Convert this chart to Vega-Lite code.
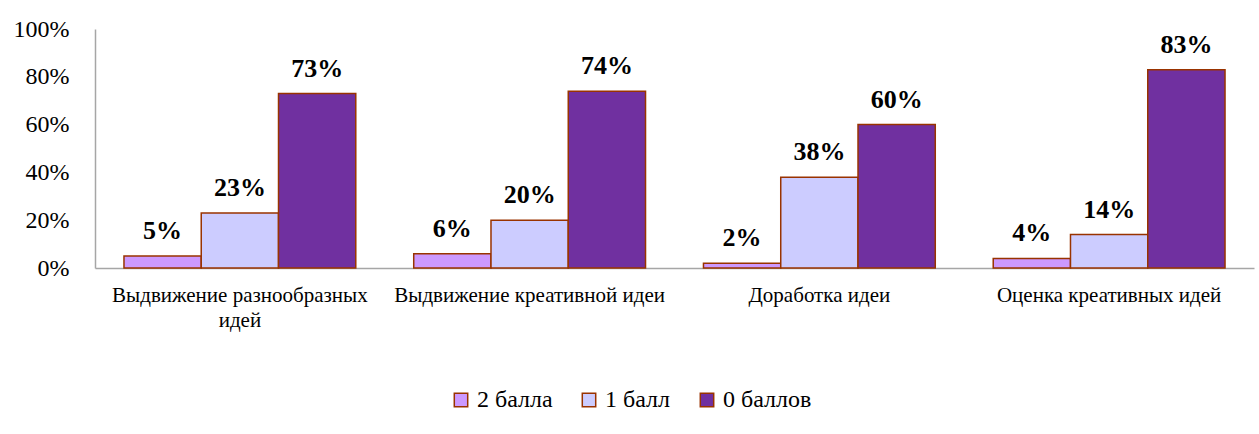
{
  "$schema": "https://vega.github.io/schema/vega-lite/v6.json",
  "width": 1159,
  "height": 239,
  "autosize": {"type": "none"},
  "padding": {"left": 95, "top": 29, "right": 5, "bottom": 166},
  "background": "white",
  "config": {
    "font": "Liberation Serif, DejaVu Serif, serif",
    "axis": {"labelFont": "Liberation Serif, DejaVu Serif, serif"},
    "legend": {"labelFont": "Liberation Serif, DejaVu Serif, serif"},
    "view": {"stroke": null}
  },
  "data": {
    "values": [
      {"category": "Выдвижение разнообразных идей", "series": "2 балла", "value": 0.05},
      {"category": "Выдвижение разнообразных идей", "series": "1 балл", "value": 0.23},
      {"category": "Выдвижение разнообразных идей", "series": "0 баллов", "value": 0.73},
      {"category": "Выдвижение креативной идеи", "series": "2 балла", "value": 0.06},
      {"category": "Выдвижение креативной идеи", "series": "1 балл", "value": 0.20},
      {"category": "Выдвижение креативной идеи", "series": "0 баллов", "value": 0.74},
      {"category": "Доработка идеи", "series": "2 балла", "value": 0.02},
      {"category": "Доработка идеи", "series": "1 балл", "value": 0.38},
      {"category": "Доработка идеи", "series": "0 баллов", "value": 0.60},
      {"category": "Оценка креативных идей", "series": "2 балла", "value": 0.04},
      {"category": "Оценка креативных идей", "series": "1 балл", "value": 0.14},
      {"category": "Оценка креативных идей", "series": "0 баллов", "value": 0.83}
    ]
  },
  "encoding": {
    "x": {
      "field": "category",
      "type": "nominal",
      "sort": null,
      "scale": {"paddingInner": 0.2, "paddingOuter": 0.1},
      "axis": {
        "title": null,
        "labelAngle": 0,
        "labelFontSize": 21,
        "labelColor": "black",
        "labelPadding": 16,
        "labelLimit": 400,
        "labelLineHeight": 25,
        "ticks": false,
        "domainColor": "#a6a6a6",
        "domainWidth": 1.5,
        "labelExpr": "datum.value == 'Выдвижение разнообразных идей' ? ['Выдвижение разнообразных', 'идей'] : datum.value"
      }
    },
    "xOffset": {
      "field": "series",
      "type": "nominal",
      "sort": ["2 балла", "1 балл", "0 баллов"],
      "scale": {"paddingInner": 0, "paddingOuter": 0}
    },
    "y": {
      "field": "value",
      "type": "quantitative",
      "scale": {"domain": [0, 1]},
      "axis": {
        "title": null,
        "format": ".0%",
        "values": [0, 0.2, 0.4, 0.6, 0.8, 1],
        "grid": false,
        "ticks": false,
        "labelFontSize": 24,
        "labelColor": "black",
        "labelPadding": 26,
        "domainColor": "#a6a6a6",
        "domainWidth": 1.5
      }
    }
  },
  "layer": [
    {
      "mark": {"type": "bar", "stroke": "#993300", "strokeWidth": 1.5},
      "encoding": {
        "color": {
          "field": "series",
          "type": "nominal",
          "sort": ["2 балла", "1 балл", "0 баллов"],
          "scale": {
            "domain": ["2 балла", "1 балл", "0 баллов"],
            "range": ["#CC99FF", "#CCCCFF", "#7030A0"]
          },
          "legend": {
            "title": null,
            "orient": "none",
            "direction": "horizontal",
            "legendX": 354,
            "legendY": 359,
            "symbolType": "square",
            "symbolSize": 180,
            "symbolStrokeColor": "#993300",
            "symbolStrokeWidth": 1.5,
            "labelFontSize": 24,
            "labelColor": "black",
            "labelOffset": 4,
            "columnPadding": 24
          }
        }
      }
    },
    {
      "mark": {"type": "text", "fontSize": 26, "fontWeight": "bold", "baseline": "alphabetic", "dy": -17, "color": "black", "font": "Liberation Serif, DejaVu Serif, serif"},
      "encoding": {
        "text": {"field": "value", "type": "quantitative", "format": ".0%"}
      }
    }
  ]
}
